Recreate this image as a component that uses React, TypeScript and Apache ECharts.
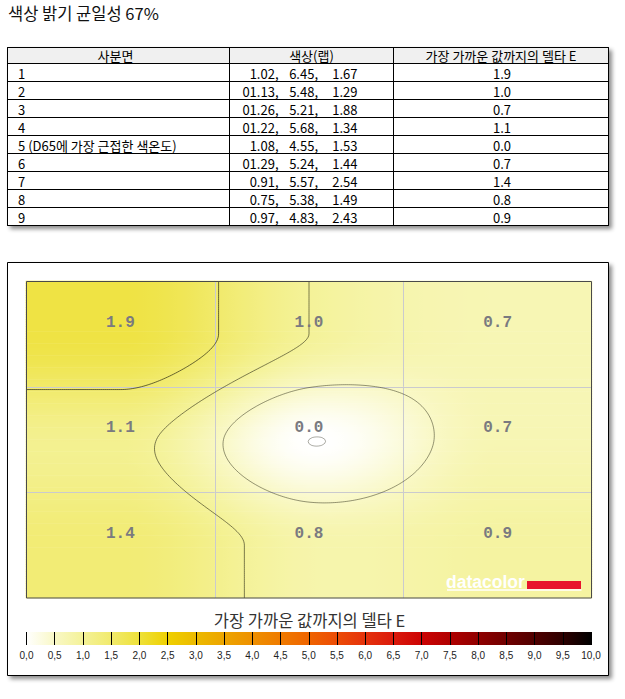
import React, { useEffect, useRef } from 'react';
import * as echarts from 'echarts';

// ---------------- data ----------------
const TITLE = '색상 밝기 균일성 67%';
const TABLE_HEADERS = ['사분면', '색상(랩)', '가장 가까운 값까지의 델타 E'];
const QUADRANT_LABELS = ['1', '2', '3', '4', '5 (D65에 가장 근접한 색온도)', '6', '7', '8', '9'];
const LAB_L = ['1.02', '01.13', '01.26', '01.22', '1.08', '01.29', '0.91', '0.75', '0.97'];
const LAB_A = ['6.45', '5.48', '5.21', '5.68', '4.55', '5.24', '5.57', '5.38', '4.83'];
const LAB_B = ['1.67', '1.29', '1.88', '1.34', '1.53', '1.44', '2.54', '1.49', '2.43'];
const DELTA_E = [1.9, 1.0, 0.7, 1.1, 0.0, 0.7, 1.4, 0.8, 0.9];
const GRID_COLS = 3;
const GRID_ROWS = 3;
const LEGEND_TITLE = '가장 가까운 값까지의 델타 E';
const CONTOUR_LEVELS = [0, 0.5, 1.0, 1.5, 2.0, 2.5, 3.0];
const COLOR_STOPS: [number, string][] = [
  [0.0, '#ffffff'], [0.5, '#f9f8c6'], [1.0, '#f4f298'], [1.5, '#f1ea6c'], [2.0, '#eee13a'],
  [2.5, '#efd000'], [3.0, '#ecba00'], [3.5, '#eda500'], [4.0, '#ee9000'], [4.5, '#ef7b00'],
  [5.0, '#ef6400'], [5.5, '#ec4c06'], [6.0, '#e5320c'], [6.5, '#db1a0c'], [7.0, '#cc0303'],
  [7.5, '#b00000'], [8.0, '#900000'], [8.5, '#700000'], [9.0, '#500000'], [9.5, '#2e0000'], [10.0, '#000000'],
];

// ---------------- helpers ----------------
const KFONT = '"Noto Sans CJK KR", "Noto Sans", sans-serif';

function hexToRgb(h: string): number[] {
  const n = parseInt(h.slice(1), 16);
  return [(n >> 16) & 255, (n >> 8) & 255, n & 255];
}
const STOP_RGB = COLOR_STOPS.map((s) => hexToRgb(s[1]));

function colorAt(v: number): string {
  const n = COLOR_STOPS.length;
  if (v <= COLOR_STOPS[0][0]) return COLOR_STOPS[0][1];
  if (v >= COLOR_STOPS[n - 1][0]) return COLOR_STOPS[n - 1][1];
  let i = 0;
  while (i < n - 2 && v > COLOR_STOPS[i + 1][0]) i++;
  const t = (v - COLOR_STOPS[i][0]) / (COLOR_STOPS[i + 1][0] - COLOR_STOPS[i][0]);
  const a = STOP_RGB[i], b = STOP_RGB[i + 1];
  const c = a.map((x, k) => Math.round(x + (b[k] - x) * t));
  return `rgb(${c[0]},${c[1]},${c[2]})`;
}

// cubic Hermite (Catmull-Rom, flat ends) through equally spaced samples
function hermite1(p: number[], u: number): number {
  const n = p.length;
  if (u <= 0) return p[0];
  if (u >= n - 1) return p[n - 1];
  const i = Math.min(Math.floor(u), n - 2);
  const t = u - i;
  const m = (k: number) => (k === 0 || k === n - 1 ? 0 : (p[k + 1] - p[k - 1]) / 2);
  const t2 = t * t, t3 = t2 * t;
  return (2 * t3 - 3 * t2 + 1) * p[i] + (t3 - 2 * t2 + t) * m(i) + (-2 * t3 + 3 * t2) * p[i + 1] + (t3 - t2) * m(i + 1);
}
const ROWS_VALUES: number[][] = [];
for (let r = 0; r < GRID_ROWS; r++) ROWS_VALUES.push(DELTA_E.slice(r * GRID_COLS, (r + 1) * GRID_COLS));

function field(a: number, b: number): number {
  const u = a - 0.5, v = b - 0.5;
  const col = ROWS_VALUES.map((row) => hermite1(row, u));
  return hermite1(col, v);
}

function chainSegments(segs: number[][][]): number[][][] {
  const key = (p: number[]) => p[0].toFixed(3) + ',' + p[1].toFixed(3);
  const map = new Map<string, number[]>();
  segs.forEach((s, i) => {
    for (const p of s) {
      const k = key(p);
      let arr = map.get(k);
      if (!arr) { arr = []; map.set(k, arr); }
      arr.push(i);
    }
  });
  const used = new Array(segs.length).fill(false);
  const lines: number[][][] = [];
  for (let i = 0; i < segs.length; i++) {
    if (used[i]) continue;
    used[i] = true;
    const line = [segs[i][0], segs[i][1]];
    for (const dir of [1, -1]) {
      for (;;) {
        const end = dir === 1 ? line[line.length - 1] : line[0];
        const ek = key(end);
        const cand = map.get(ek) || [];
        let found = -1;
        for (const j of cand) if (!used[j]) { found = j; break; }
        if (found < 0) break;
        used[found] = true;
        const s = segs[found];
        const next = key(s[0]) === ek ? s[1] : s[0];
        if (dir === 1) line.push(next); else line.unshift(next);
      }
    }
    lines.push(line);
  }
  return lines;
}

function renderCell(params: any, api: any) {
  const c = api.value(0), r = api.value(1), val = api.value(2);
  const p0 = api.coord([c, r]);
  const p1 = api.coord([c + 1, r + 1]);
  const x0 = p0[0], y0 = p0[1], x1 = p1[0], y1 = p1[1];
  const W = x1 - x0, H = y1 - y0;
  const children: any[] = [];
  // smooth surface as gradient strips
  const NS = 44, NX = 26;
  for (let j = 0; j < NS; j++) {
    const b = r + (j + 0.5) / NS;
    const stops: any[] = [];
    for (let k = 0; k <= NX; k++) {
      stops.push({ offset: k / NX, color: colorAt(field(c + k / NX, b)) });
    }
    const ya = y0 + (H * j) / NS;
    children.push({
      type: 'rect', z2: 0, silent: true,
      shape: { x: x0 - 0.3, y: ya - 0.3, width: W + 0.6, height: H / NS + 0.6 },
      style: { fill: new echarts.graphic.LinearGradient(0, 0, 1, 0, stops) },
    });
  }
  // inner grid lines
  if (c < GRID_COLS - 1) {
    children.push({ type: 'line', z2: 10, silent: true, shape: { x1: Math.round(x1) + 0.5, y1: y0, x2: Math.round(x1) + 0.5, y2: y1 }, style: { stroke: '#cacace', lineWidth: 1 } });
  }
  if (r < GRID_ROWS - 1) {
    children.push({ type: 'line', z2: 10, silent: true, shape: { x1: x0, y1: Math.round(y1) + 0.5, x2: x1, y2: Math.round(y1) + 0.5 }, style: { stroke: '#cacace', lineWidth: 1 } });
  }
  // contours via marching squares
  const MX = 96, MY = 54;
  const vals: number[] = new Array((MX + 1) * (MY + 1));
  for (let j = 0; j <= MY; j++) for (let i = 0; i <= MX; i++) vals[j * (MX + 1) + i] = field(c + i / MX, r + j / MY);
  const dx = W / MX, dy = H / MY;
  const px = (i: number) => x0 + dx * i;
  const py = (j: number) => y0 + dy * j;
  const fr = (L: number, a: number, b: number) => (b === a ? 0.5 : (L - a) / (b - a));
  for (const L of CONTOUR_LEVELS) {
    const segs: number[][][] = [];
    for (let j = 0; j < MY; j++) {
      for (let i = 0; i < MX; i++) {
        const v00 = vals[j * (MX + 1) + i], v10 = vals[j * (MX + 1) + i + 1];
        const v01 = vals[(j + 1) * (MX + 1) + i], v11 = vals[(j + 1) * (MX + 1) + i + 1];
        const idx = (v00 >= L ? 8 : 0) | (v10 >= L ? 4 : 0) | (v11 >= L ? 2 : 0) | (v01 >= L ? 1 : 0);
        if (idx === 0 || idx === 15) continue;
        const T = () => [px(i) + fr(L, v00, v10) * dx, py(j)];
        const R = () => [px(i + 1), py(j) + fr(L, v10, v11) * dy];
        const B = () => [px(i) + fr(L, v01, v11) * dx, py(j + 1)];
        const Lf = () => [px(i), py(j) + fr(L, v00, v01) * dy];
        switch (idx) {
          case 1: case 14: segs.push([Lf(), B()]); break;
          case 2: case 13: segs.push([B(), R()]); break;
          case 3: case 12: segs.push([Lf(), R()]); break;
          case 4: case 11: segs.push([T(), R()]); break;
          case 6: case 9: segs.push([T(), B()]); break;
          case 7: case 8: segs.push([Lf(), T()]); break;
          case 5: segs.push([Lf(), T()]); segs.push([B(), R()]); break;
          case 10: segs.push([T(), R()]); segs.push([Lf(), B()]); break;
        }
      }
    }
    if (!segs.length) continue;
    const lines = chainSegments(segs);
    let d = '';
    for (const line of lines) {
      line.forEach((p, k) => { d += (k === 0 ? 'M' : 'L') + p[0].toFixed(2) + ' ' + p[1].toFixed(2); });
    }
    const alpha = Math.min(0.8, 0.38 + 0.2 * L);
    children.push({
      type: 'path', z2: 15, silent: true,
      shape: { pathData: d },
      style: { fill: 'none', stroke: `rgba(35,35,15,${alpha.toFixed(2)})`, lineWidth: 1, lineJoin: 'round' },
    });
  }
  // value label
  const lp = api.coord([c + 0.5, r + 0.393]);
  children.push({
    type: 'text', z2: 20, silent: true,
    style: {
      text: val.toFixed(1), x: lp[0], y: lp[1],
      align: 'center', verticalAlign: 'middle', textAlign: 'center', textVerticalAlign: 'middle',
      fontFamily: '"Liberation Mono", "DejaVu Sans Mono", monospace', fontSize: 16, fontWeight: 'bold',
      fill: '#7a7a80',
    },
  });
  return { type: 'group', children };
}

function renderScaleSegment(params: any, api: any) {
  const v0 = api.value(0), v1 = api.value(1);
  const a = api.coord([v0, 1]);
  const b = api.coord([v1, 0]);
  return {
    type: 'rect', silent: true,
    shape: { x: a[0] - 0.3, y: a[1], width: b[0] - a[0] + 0.6, height: b[1] - a[1] },
    style: { fill: new echarts.graphic.LinearGradient(0, 0, 1, 0, [{ offset: 0, color: colorAt(v0) }, { offset: 1, color: colorAt(v1) }]) },
  };
}

function txt(text: string, x: number, y: number, size: number, align: string, fill = '#000', family = KFONT, extra: any = {}) {
  const { style: extraStyle, ...rest } = extra;
  return {
    type: 'text', x: 0, y: 0, silent: true, z: 50, ...rest,
    style: {
      text, x, y, fontSize: size, fontFamily: family, fill,
      align, textAlign: align, verticalAlign: 'middle', textVerticalAlign: 'middle',
      ...(extraStyle || {}),
    },
  };
}

function buildOption() {
  const g: any[] = [];
  // title
  g.push(txt(TITLE, 8, 13, 16.5, 'left', '#111'));

  // table
  const TX = [7.5, 229.5, 393.5, 608.5];
  const TY0 = 47.5, HEAD_H = 16, ROW_H = 18;
  const TY1 = TY0 + HEAD_H + ROW_H * QUADRANT_LABELS.length;
  g.push({
    type: 'rect', z: 10, silent: true,
    shape: { x: TX[0], y: TY0, width: TX[3] - TX[0], height: TY1 - TY0 },
    style: { fill: '#fff', stroke: '#000', lineWidth: 1, shadowBlur: 4, shadowOffsetX: 3, shadowOffsetY: 3, shadowColor: 'rgba(0,0,0,0.45)' },
  });
  g.push({ type: 'rect', z: 11, silent: true, shape: { x: TX[0] + 0.5, y: TY0 + 0.5, width: TX[3] - TX[0] - 1, height: HEAD_H - 0.5 }, style: { fill: '#f0f0f0' } });
  for (let k = 0; k < QUADRANT_LABELS.length; k++) {
    const y = TY0 + HEAD_H + ROW_H * k;
    g.push({ type: 'line', z: 12, silent: true, shape: { x1: TX[0], y1: y, x2: TX[3], y2: y }, style: { stroke: '#000', lineWidth: 1 } });
  }
  for (const x of [TX[1], TX[2]]) {
    g.push({ type: 'line', z: 12, silent: true, shape: { x1: x, y1: TY0, x2: x, y2: TY1 }, style: { stroke: '#000', lineWidth: 1 } });
  }
  g.push({ type: 'rect', z: 12, silent: true, shape: { x: TX[0], y: TY0, width: TX[3] - TX[0], height: TY1 - TY0 }, style: { fill: 'none', stroke: '#000', lineWidth: 1 } });
  const hy = TY0 + HEAD_H / 2;
  g.push(txt(TABLE_HEADERS[0], (TX[0] + TX[1]) / 2 - 3, hy, 13, 'center'));
  g.push(txt(TABLE_HEADERS[1], (TX[1] + TX[2]) / 2, hy, 13, 'center'));
  g.push(txt(TABLE_HEADERS[2], (TX[2] + TX[3]) / 2, hy, 13, 'center'));
  QUADRANT_LABELS.forEach((lab, k) => {
    const y = TY0 + HEAD_H + ROW_H * k + ROW_H / 2 + 0.5;
    g.push(txt(lab, 18, y, 13, 'left'));
    g.push(txt(`${LAB_L[k]},`, 278.5, y, 13, 'right'));
    g.push(txt(`${LAB_A[k]},`, 318, y, 13, 'right'));
    g.push(txt(LAB_B[k], 357.5, y, 13, 'right'));
    g.push(txt(DELTA_E[k].toFixed(1), (TX[2] + TX[3]) / 2 + 1, y, 13, 'center'));
  });

  // heatmap panel
  g.push({
    type: 'rect', z: -1, silent: true,
    shape: { x: 7.5, y: 262.5, width: 601, height: 413 },
    style: { fill: '#fff', stroke: '#000', lineWidth: 1, shadowBlur: 4, shadowOffsetX: 3, shadowOffsetY: 3, shadowColor: 'rgba(0,0,0,0.45)' },
  });
  // plot border
  g.push({ type: 'rect', z: 60, silent: true, shape: { x: 26.5, y: 281.5, width: 565, height: 316.5 }, style: { fill: 'none', stroke: '#4a4a4a', lineWidth: 1 } });
  // datacolor logo
  g.push(txt('datacolor', 446, 581.5, 17.5, 'left', '#ffffff', '"Liberation Sans", Arial, sans-serif', { z: 70, style: { fontWeight: 'bold' } }));
  g.push({ type: 'rect', z: 70, silent: true, shape: { x: 527, y: 581, width: 54, height: 8 }, style: { fill: '#e8142b' } });
  g.push({ type: 'rect', z: 70, silent: true, shape: { x: 447, y: 589.3, width: 134.5, height: 1.5 }, style: { fill: '#ffffff' } });
  // legend title
  g.push(txt(LEGEND_TITLE, 309.5, 620, 16.5, 'center', '#333'));

  const cellData = DELTA_E.map((v, i) => [i % GRID_COLS, Math.floor(i / GRID_COLS), v]);
  const scaleData = COLOR_STOPS.slice(0, -1).map((s, i) => [s[0], COLOR_STOPS[i + 1][0]]);

  return {
    animation: false,
    grid: [
      { left: 26, top: 281, width: 566, height: 317 },
      { left: 26.5, top: 632, width: 564.5, height: 13 },
    ],
    xAxis: [
      { gridIndex: 0, type: 'value', min: 0, max: GRID_COLS, show: false },
      {
        gridIndex: 1, type: 'value', min: 0, max: 10, interval: 0.5, z: 10,
        axisLine: { show: false },
        axisTick: { show: true, inside: true, length: 13, lineStyle: { color: '#000', width: 1 } },
        splitLine: { show: false },
        axisLabel: {
          margin: 5, fontSize: 10, color: '#222', fontFamily: '"Liberation Sans", Arial, sans-serif',
          formatter: (v: number) => v.toFixed(1).replace('.', ','),
        },
      },
    ],
    yAxis: [
      { gridIndex: 0, type: 'value', min: 0, max: GRID_ROWS, inverse: true, show: false },
      { gridIndex: 1, type: 'value', min: 0, max: 1, show: false },
    ],
    graphic: { elements: g },
    series: [
      {
        type: 'custom', name: 'deltaE', xAxisIndex: 0, yAxisIndex: 0, silent: true,
        data: cellData, renderItem: renderCell, encode: { x: 0, y: 1 }, z: 2,
      },
      {
        type: 'custom', name: 'scale', xAxisIndex: 1, yAxisIndex: 1, silent: true,
        data: scaleData, renderItem: renderScaleSegment, encode: { x: [0, 1] }, z: 2,
      },
    ],
  };
}

export default function App() {
  const ref = useRef<HTMLDivElement>(null);
  useEffect(() => {
    const el = ref.current;
    if (!el) return;
    const chart = echarts.init(el, null, { renderer: 'svg' });
    chart.setOption(buildOption() as any);
    return () => chart.dispose();
  }, []);
  return (
    <div
      ref={ref}
      style={{ position: 'fixed', left: 0, top: 0, width: 625, height: 699, background: '#fff' }}
    />
  );
}
